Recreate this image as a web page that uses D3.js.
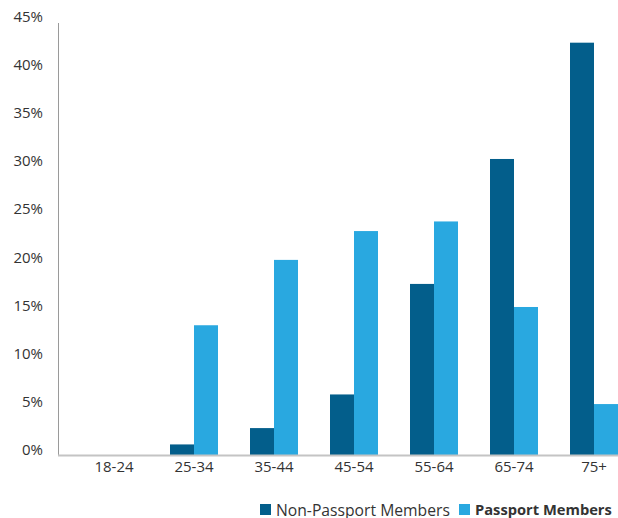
<!DOCTYPE html>
<html>
<head>
<meta charset="utf-8">
<script src="https://cdn.jsdelivr.net/npm/d3@7"></script>
<style>
  body { margin: 0; background: #fff; }
  text { font-family: "Open Sans", sans-serif; fill: #333; }
</style>
</head>
<body>
<div id="chart"></div>
<script>
// age groups and shares (%)
var ageGroups = ["18-24", "25-34", "35-44", "45-54", "55-64", "65-74", "75+"];
var nonPassport = [0, 1.1, 2.8, 6.3, 17.8, 30.8, 42.9];
var passport = [0, 13.5, 20.3, 23.3, 24.3, 15.4, 5.3];
var yTicks = [0, 5, 10, 15, 20, 25, 30, 35, 40, 45];
var seriesNames = ["Non-Passport Members", "Passport Members"];
var seriesColors = ["#035e8b", "#29a8e0"];

var W = 618, H = 518;

var svg = d3.select("#chart").append("svg")
  .attr("width", W)
  .attr("height", H);

var x = d3.scaleBand().domain(ageGroups).range([74, 634]).paddingInner(0.4).paddingOuter(0.2);
var xSub = d3.scaleBand().domain([0, 1]).range([0, x.bandwidth()]);
var y = d3.scaleLinear().domain([0, 45]).range([455, 22.5]);

var rows = ageGroups.map(function (g, i) {
  return { group: g, vals: [nonPassport[i], passport[i]] };
});

// bars
var groups = svg.append("g").selectAll("g")
  .data(rows)
  .enter().append("g")
  .attr("transform", function (d) { return "translate(" + x(d.group) + ",0)"; });

groups.selectAll("rect")
  .data(function (d) { return d.vals; })
  .enter().append("rect")
  .attr("x", function (d, i) { return xSub(i); })
  .attr("width", xSub.bandwidth())
  .attr("y", function (d) { return y(d); })
  .attr("height", function (d) { return y(0) - y(d); })
  .attr("fill", function (d, i) { return seriesColors[i]; });

// y axis
var yAxis = svg.append("g")
  .attr("transform", "translate(58,0)")
  .call(d3.axisLeft(y).tickValues(yTicks).tickSize(0).tickPadding(15)
    .tickFormat(function (d) { return d + "%"; }));
yAxis.select(".domain").attr("stroke", "#9a9a9a").attr("stroke-width", 1);
yAxis.selectAll("text")
  .attr("font-size", 15)
  .attr("font-family", "Open Sans, sans-serif")
  .attr("fill", "#333")
  .attr("dy", "-0.05em");

// x axis
var xAxis = svg.append("g")
  .attr("transform", "translate(0,455)")
  .call(d3.axisBottom(x).tickSize(0).tickPadding(6));
xAxis.select(".domain").remove();
xAxis.selectAll("text")
  .attr("font-size", 15)
  .attr("font-family", "Open Sans, sans-serif")
  .attr("fill", "#333");
svg.append("line")
  .attr("x1", 58).attr("x2", W)
  .attr("y1", 455.5).attr("y2", 455.5)
  .attr("stroke", "#c4c4c4")
  .attr("stroke-width", 2);

// legend
var legend = svg.append("g").attr("transform", "translate(260,510)");
var legX = [0, 199];
var legSize = [15.7, 14.7];
seriesNames.forEach(function (name, i) {
  var lg = legend.append("g").attr("transform", "translate(" + legX[i] + ",0)");
  lg.append("rect")
    .attr("x", 0).attr("y", -6)
    .attr("width", 11).attr("height", 11)
    .attr("fill", seriesColors[i]);
  lg.append("text")
    .attr("x", 16).attr("y", 0)
    .attr("dy", "0.35em")
    .attr("font-size", legSize[i])
    .attr("font-weight", i === 1 ? "bold" : "normal")
    .text(name);
});
</script>
</body>
</html>
